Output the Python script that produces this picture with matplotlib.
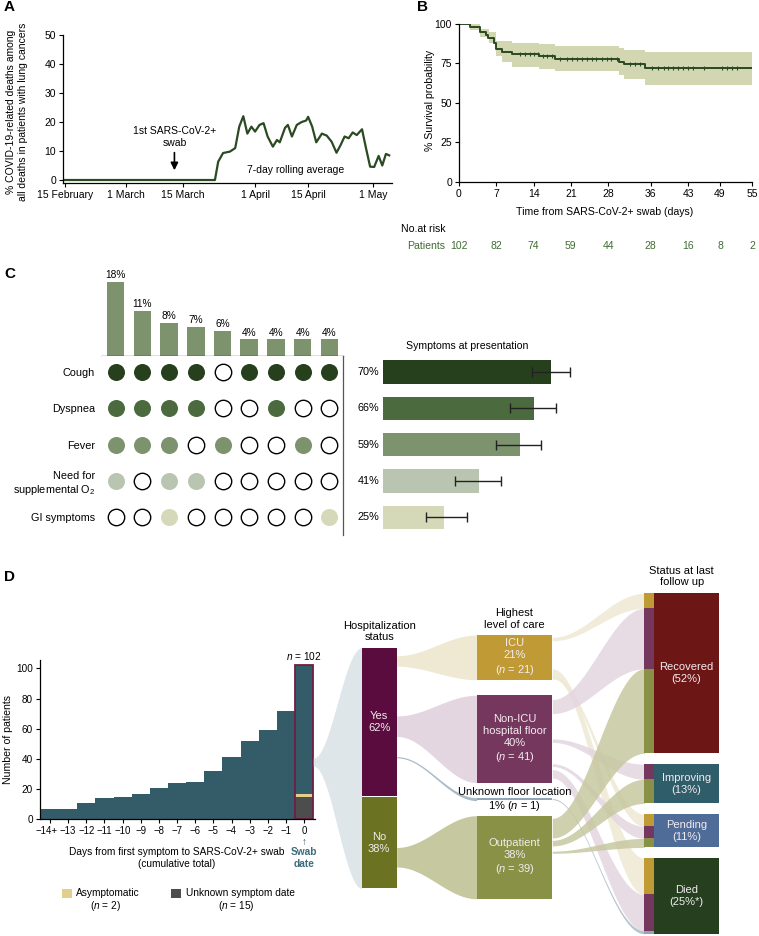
import numpy as np
import matplotlib
matplotlib.use('Agg')
import matplotlib.pyplot as plt
from matplotlib.patches import Rectangle
from matplotlib.transforms import ScaledTranslation

plt.rcParams['font.family'] = ['Liberation Sans', 'DejaVu Sans']
plt.rcParams['mathtext.fontset'] = 'custom'
plt.rcParams['mathtext.rm'] = 'Liberation Sans'
plt.rcParams['mathtext.it'] = 'Liberation Sans:italic'
plt.rcParams['font.size'] = 7
plt.rcParams['axes.linewidth'] = 0.9
plt.rcParams['xtick.major.width'] = 0.8
plt.rcParams['ytick.major.width'] = 0.8
plt.rcParams['xtick.major.size'] = 3
plt.rcParams['ytick.major.size'] = 3
plt.rcParams['xtick.major.pad'] = 2
plt.rcParams['ytick.major.pad'] = 2

# ---------------- data ----------------
# Panel A: 7-day rolling average (% COVID-19 related deaths); day 0 = 15 February
a_days = [0, 37, 37.8, 39, 40.7, 42, 43, 44, 45, 46, 46.9, 48, 49, 50, 51.3, 52.3, 53,
          54.3, 55, 56, 57.2, 58.4, 59.5, 60, 61, 62, 63.4, 64.6, 65.8, 67, 68, 69, 70,
          71, 72, 73.3, 74.2, 75.3, 76.3, 77.4, 78.3, 79.2, 80]
a_vals = [0, 0, 6.3, 9.3, 9.8, 11, 18.4, 22, 16, 18.4, 16.7, 19, 19.6, 15, 11.5, 13.8, 13,
          18, 19, 15, 19, 20, 20.5, 21.8, 18.4, 13, 16, 15.3, 13.2, 9.4, 12, 15, 14.4,
          16.4, 15.5, 17.5, 11.5, 4.6, 4.5, 8.3, 5, 9, 8.5]
a_tick_days = [0, 15, 29, 47, 60, 76]
a_tick_labels = ['15 February', '1 March', '15 March', '1 April', '15 April', '1 May']
a_swab_day = 27

# Panel B: Kaplan-Meier
km_t = [0, 2, 4, 5, 5.5, 6.5, 7, 8, 10, 15, 18, 30, 31, 35, 55]
km_s = [100, 98, 95, 93, 91, 88, 84, 82.5, 81, 79.5, 78, 76, 74.5, 72, 72]
ci_up_t = [0, 4, 5.7, 7, 10, 15, 18, 30, 31, 35, 55]
ci_up = [100, 97, 95, 89, 88, 87.3, 86.3, 85, 83.5, 82, 82]
ci_lo_t = [0, 2, 4, 5.7, 7, 8, 10, 15, 18, 30, 31, 35, 55]
ci_lo = [100, 96, 92, 88, 80, 76, 73, 71.5, 70.3, 67.7, 65, 61.5, 61.5]
censor_t = [11.5, 12.4, 13.3, 14.1, 14.9, 15.8, 16.6, 17.5, 19, 20.2, 21.2, 22.1, 23, 24,
            24.9, 25.8, 26.8, 27.7, 28.6, 29.6, 32.1, 33, 34, 36.3, 37.4, 38.4, 39.3,
            40.2, 41.2, 42.1, 43, 44, 45.9, 49.3, 50.3, 51.2, 52.1]
risk_days = [0, 7, 14, 21, 28, 36, 43, 49, 55]
risk_n = [102, 82, 74, 59, 44, 28, 16, 8, 2]

# Panel C
combo_pct = [18, 11, 8, 7, 6, 4, 4, 4, 4]
symptoms = ['Cough', 'Dyspnea', 'Fever', 'Need for\nsupplemental O$_2$', 'GI symptoms']
combo_matrix = [
    [1, 1, 1, 1, 0, 1, 1, 1, 1],
    [1, 1, 1, 1, 0, 0, 1, 0, 0],
    [1, 1, 1, 0, 1, 0, 0, 1, 0],
    [1, 0, 1, 1, 0, 0, 0, 0, 0],
    [0, 0, 1, 0, 0, 0, 0, 0, 1],
]
symptom_bar = [70, 63, 57, 40, 25.5]
symptom_label = ['70%', '66%', '59%', '41%', '25%']
symptom_ci_lo = [62, 53, 47, 30, 18]
symptom_ci_hi = [78, 72, 66, 49, 35]

# Panel D histogram
hist_labels = ['\u221214+', '\u221213', '\u221212', '\u221211', '\u221210', '\u22129', '\u22128',
               '\u22127', '\u22126', '\u22125', '\u22124', '\u22123', '\u22122', '\u22121', '0']
hist_vals = [7, 7, 11, 14, 15, 17, 21, 24, 25, 32, 41, 52, 59, 72, 102]
unknown_n = 15
asym_n = 2

# Panel D sankey
hosp_nodes = ['Yes', 'No']
hosp_n = [63, 39]
care_nodes = ['ICU', 'Non-ICU', 'Unknown', 'Outpatient']
care_n = [21, 41, 1, 39]
status_nodes = ['Recovered', 'Improving', 'Pending', 'Died']
status_n = [53, 13, 11, 25]
flow1_src = ['Yes', 'Yes', 'Yes', 'No']
flow1_dst = ['ICU', 'Non-ICU', 'Unknown', 'Outpatient']
flow1_n = [21, 41, 1, 39]
flow2_src = ['ICU', 'ICU', 'ICU', 'Non-ICU', 'Non-ICU', 'Non-ICU', 'Non-ICU', 'Unknown',
             'Outpatient', 'Outpatient', 'Outpatient']
flow2_dst = ['Recovered', 'Pending', 'Died', 'Recovered', 'Improving', 'Pending', 'Died',
             'Died', 'Recovered', 'Improving', 'Pending']
flow2_n = [5, 4, 12, 20, 5, 4, 12, 1, 28, 8, 3]

# ---------------- styling / layout ----------------
W, H = 759, 936
fig = plt.figure(figsize=(W / 100, H / 100), dpi=100)


def rect(l, t, r, b):
    return [l / W, 1 - b / H, (r - l) / W, (b - t) / H]


GREEN = '#2b4a22'
RISK_GREEN = '#3f6b34'
TFS = 7.5  # tick font size

# ---------- Panel A ----------
ax = fig.add_axes(rect(63, 35, 392, 183))
ax.plot(a_days, a_vals, color=GREEN, lw=1.6, solid_joinstyle='round')
ax.set_xlim(-0.5, 80.7)
ax.set_ylim(-1.03, 50)
ax.set_yticks([0, 10, 20, 30, 40, 50])
ax.set_xticks(a_tick_days)
ax.set_xticklabels(a_tick_labels)
for s in ['top', 'right']:
    ax.spines[s].set_visible(False)
ax.tick_params(labelsize=TFS)
ax.annotate('', xy=(a_swab_day, 2.4), xytext=(a_swab_day, 10.4),
            arrowprops=dict(arrowstyle='-|>', color='k', lw=1.2, mutation_scale=11))
ax.text(a_swab_day, 15, '1st SARS-CoV-2+\nswab', ha='center', va='center', fontsize=7.5,
        linespacing=1.25)
ax.text(56.8, 3.4, '7-day rolling average', ha='center', va='center', fontsize=7.5)

# ---------- Panel B ----------
ax = fig.add_axes(rect(459, 24, 752, 182))
tt = sorted(set(ci_up_t) | set(ci_lo_t))
up_vals = [ci_up[np.searchsorted(ci_up_t, t, side='right') - 1] for t in tt]
lo_vals = [ci_lo[np.searchsorted(ci_lo_t, t, side='right') - 1] for t in tt]
ax.fill_between(tt, lo_vals, up_vals, step='post', color='#d2d7b2', lw=0)
ax.step(km_t, km_s, where='post', color=GREEN, lw=1.4)
cens_y = [km_s[np.searchsorted(km_t, t, side='right') - 1] for t in censor_t]
ax.plot(censor_t, cens_y, ls='none', marker='|', ms=3.5, mew=0.8, color=GREEN)
ax.set_xlim(0, 55)
ax.set_ylim(0, 100)
ax.set_xticks(risk_days)
ax.set_yticks([0, 25, 50, 75, 100])
for s in ['top', 'right']:
    ax.spines[s].set_visible(False)
ax.tick_params(labelsize=TFS)
for d, n in zip(risk_days, risk_n):
    ax.text(d, -40.5, str(n), ha='center', va='center', fontsize=TFS, color=RISK_GREEN,
            clip_on=False)

# ---------- Panel C ----------
ncol = len(combo_pct)
ax = fig.add_axes(rect(101.7, 270, 343.3, 355.7))
ax.bar(range(ncol), combo_pct, width=0.66, color='#7c936e')
for i, v in enumerate(combo_pct):
    ax.text(i, v + 0.4, f'{v}%', ha='center', va='bottom', fontsize=7.3)
ax.set_xlim(-0.52, 8.52)
ax.set_ylim(0, 20.9)
for s in ['top', 'right', 'left']:
    ax.spines[s].set_visible(False)
ax.set_yticks([])
ax.set_xticks(range(ncol))
ax.set_xticklabels([])
ax.tick_params(axis='x', length=3)

sym_colors = ['#263f1c', '#4b6a3d', '#7c936e', '#b9c5b1', '#d5d9b8']
ax = fig.add_axes(rect(101.7, 355.7, 343.3, 535))
for r, row in enumerate(combo_matrix):
    for c, v in enumerate(row):
        if v:
            ax.scatter(c, r, s=150, color=sym_colors[r], lw=0)
        else:
            ax.scatter(c, r, s=140, facecolor='white', edgecolor='black', lw=1.0)
ax.set_xlim(-0.52, 8.52)
ax.set_ylim(4.49, -0.45)
for s in ['top', 'left', 'bottom']:
    ax.spines[s].set_visible(False)
ax.set_xticks([])
ax.set_yticks(range(len(symptoms)))
ax.set_yticklabels(symptoms, fontsize=7.8)
ax.tick_params(axis='y', length=0, pad=5)
ax.spines['right'].set_color('#555555')

ax = fig.add_axes(rect(383, 355.7, 623, 535))
ax.barh(range(len(symptom_bar)), symptom_bar, height=0.64, color=sym_colors)
lo = np.array(symptom_bar) - np.array(symptom_ci_lo)
hi = np.array(symptom_ci_hi) - np.array(symptom_bar)
ax.errorbar(symptom_bar, range(len(symptom_bar)), xerr=[lo, hi], fmt='none',
            ecolor='#222222', elinewidth=1.0, capsize=3.5, capthick=1.0)
for i, lab in enumerate(symptom_label):
    ax.text(-10.5, i, lab, ha='left', va='center', fontsize=7.8)
ax.set_xlim(0, 100)
ax.set_ylim(4.49, -0.45)
ax.axis('off')

# ---------- Panel D histogram ----------
TEAL = '#345c68'
ax = fig.add_axes(rect(40, 660, 315, 819.3))
x = np.arange(len(hist_vals))
bottoms = [0] * (len(hist_vals) - 1) + [unknown_n + asym_n]
heights = list(hist_vals[:-1]) + [hist_vals[-1] - unknown_n - asym_n]
ax.bar(x, heights, bottom=bottoms, width=1.0, color=TEAL, lw=0)
ax.bar(x[-1], unknown_n, width=1.0, color='#4d4d4d', lw=0)
ax.bar(x[-1], asym_n, bottom=unknown_n, width=1.0, color='#e2cf8c', lw=0)
ax.bar(x[-1], hist_vals[-1], width=0.96, facecolor='none', edgecolor='#6e1f45', lw=1.3)
ax.text(x[-1], hist_vals[-1] + 2.5, '$n$ = 102', ha='center', va='bottom', fontsize=7.3)
ax.set_xlim(-0.55, 14.6)
ax.set_ylim(0, 105.5)
ax.set_xticks(x)
ax.set_xticklabels(hist_labels)
ax.set_yticks([0, 20, 40, 60, 80, 100])
for s in ['top', 'right']:
    ax.spines[s].set_visible(False)
ax.tick_params(axis='y', labelsize=7.2)
ax.tick_params(axis='x', labelsize=6.9)
first = ax.get_xticklabels()[0]
first.set_transform(first.get_transform() + ScaledTranslation(-3 / 100, 0, fig.dpi_scale_trans))

# ---------- Overlay (texts + sankey) ----------
ov = fig.add_axes([0, 0, 1, 1])
ov.set_xlim(0, W)
ov.set_ylim(H, 0)
ov.axis('off')
ov.patch.set_visible(False)

for lab, (px, py) in zip('ABCD', [(4, 7), (417, 7), (4, 274), (4, 577)]):
    ov.text(px, py, lab, fontsize=11, fontweight='bold', ha='left', va='center')

ov.text(17, 112, '% COVID-19-related deaths among\nall deaths in patients with lung cancers',
        rotation=90, ha='center', va='center', fontsize=7.5, linespacing=1.15)
ov.text(430, 100, '% Survival probability', rotation=90, ha='center', va='center', fontsize=7.6)
ov.text(605, 212, 'Time from SARS-CoV-2+ swab (days)', ha='center', va='center', fontsize=7.6)
ov.text(401, 229, 'No.at risk', ha='left', va='center', fontsize=7.6)
ov.text(445, 246, 'Patients', ha='right', va='center', fontsize=7.6, color=RISK_GREEN)
ov.text(467, 346, 'Symptoms at presentation', ha='center', va='center', fontsize=7.6)

ov.text(8, 740, 'Number of patients', rotation=90, ha='center', va='center', fontsize=7.6)
ov.text(177, 858, 'Days from first symptom to SARS-CoV-2+ swab\n(cumulative total)',
        ha='center', va='center', fontsize=7.3, linespacing=1.2)
ov.text(304, 842, '\u2191', ha='center', va='center', fontsize=7, color=TEAL)
ov.text(304, 858, 'Swab\ndate', ha='center', va='center', fontsize=7.3, color='#3b6d7b',
        fontweight='bold', linespacing=1.15)
ov.add_patch(Rectangle((62, 889), 10, 9, color='#e2cf8c', lw=0))
ov.text(76, 893.5, 'Asymptomatic', ha='left', va='center', fontsize=7.3)
ov.text(105, 906, '($n$ = 2)', ha='center', va='center', fontsize=7.3)
ov.add_patch(Rectangle((171, 889), 10, 9, color='#4d4d4d', lw=0))
ov.text(186, 893.5, 'Unknown symptom date', ha='left', va='center', fontsize=7.3)
ov.text(236, 906, '($n$ = 15)', ha='center', va='center', fontsize=7.3)


def stack(counts, top, scale, gap):
    out = []
    y = top
    for c in counts:
        out.append((y, y + c * scale))
        y += c * scale + gap
    return out


def band(x0, a0, b0, x1, a1, b1, color, alpha=1.0, z=1):
    t = np.linspace(0, 1, 80)
    s = (1 - np.cos(np.pi * t)) / 2
    xs = x0 + (x1 - x0) * t
    top = a0 + (a1 - a0) * s
    bot = b0 + (b1 - b0) * s
    ov.fill_between(xs, top, bot, color=color, lw=0, alpha=alpha, zorder=z)


# column geometry (layout)
HX = (361.7, 396.7)
CX = (476.7, 552.3)
SX = (644.3, 654.0, 719.0)
hosp_pos = stack(hosp_n, 647.7, 2.35, 1.0)
care_pos = stack(care_n, 635.0, 2.13, 15.5)
stat_pos = stack(status_n, 593.3, 3.02, 10.8)

hosp_col = {'Yes': '#5b0c3e', 'No': '#6b7222'}
care_col = {'ICU': '#c09b35', 'Non-ICU': '#76375f', 'Unknown': '#8fa7b8',
            'Outpatient': '#899146'}
flow_col = {'ICU': '#efe9d3', 'Non-ICU': '#e3d6e0', 'Unknown': '#a9bac7',
            'Outpatient': '#c6c8a0'}
stat_col = {'Recovered': '#6d1616', 'Improving': '#2f5d69', 'Pending': '#4f6b97',
            'Died': '#253f1f'}

# grey flow from swab-date bar to hospitalization status
band(313.3, 758, 766, HX[0], hosp_pos[0][0], hosp_pos[-1][1], '#dfe6ea', z=1)

# flows hospitalization -> highest level of care
flow1_frac = [0.09, 0.53, 0.74, 0.66]
for s, d, n, f in zip(flow1_src, flow1_dst, flow1_n, flow1_frac):
    y0, y1 = hosp_pos[hosp_nodes.index(s)]
    c = y0 + f * (y1 - y0)
    w = n * 0.5
    t0, t1 = care_pos[care_nodes.index(d)]
    if d == 'Unknown':
        t0, t1 = t0 - 0.4, t1 + 0.4
        band(HX[1], c - 0.6, c + 0.6, CX[0], t0, t1, flow_col[d], z=1)
    else:
        band(HX[1], c - w / 2, c + w / 2, CX[0], t0, t1, flow_col[d], z=1)

# flows level of care -> status
flow2_frac = [0.09, 0.95, 0.85, 0.13, 0.52, 0.8, 0.9, 0.5, 0.15, 0.33, 0.44]
stat_fill = {k: stat_pos[i][0] for i, k in enumerate(status_nodes)}
strips = []
for s, d, n, f in zip(flow2_src, flow2_dst, flow2_n, flow2_frac):
    y0, y1 = care_pos[care_nodes.index(s)]
    c = y0 + f * (y1 - y0)
    w = max(n * 0.7, 1.0)
    t0 = stat_fill[d]
    t1 = t0 + n * 3.02
    stat_fill[d] = t1
    strips.append((t0, t1, care_col[s]))
    band(CX[1], c - w / 2, c + w / 2, SX[0], t0, t1, flow_col[s], alpha=0.85, z=1)

# nodes
for name, (y0, y1) in zip(hosp_nodes, hosp_pos):
    ov.add_patch(Rectangle((HX[0], y0), HX[1] - HX[0], y1 - y0, color=hosp_col[name],
                           lw=0, zorder=3))
for name, (y0, y1) in zip(care_nodes, care_pos):
    ov.add_patch(Rectangle((CX[0], y0), CX[1] - CX[0], y1 - y0, color=care_col[name],
                           lw=0, zorder=3))
for (y0, y1, col) in strips:
    ov.add_patch(Rectangle((SX[0], y0), SX[1] - SX[0], y1 - y0, color=col, lw=0, zorder=3))
for name, (y0, y1) in zip(status_nodes, stat_pos):
    ov.add_patch(Rectangle((SX[1], y0), SX[2] - SX[1], y1 - y0, color=stat_col[name],
                           lw=0, zorder=3))

TXT = '#f2ecef'
fs = 8
hosp_txt = ['Yes\n62%', 'No\n38%']
for t, (y0, y1) in zip(hosp_txt, hosp_pos):
    ov.text(sum(HX) / 2, (y0 + y1) / 2, t, ha='center', va='center', fontsize=fs,
            color=TXT, zorder=4, linespacing=1.25)
care_txt = ['ICU\n21%\n($n$ = 21)', 'Non-ICU\nhospital floor\n40%\n($n$ = 41)', None,
            'Outpatient\n38%\n($n$ = 39)']
for t, (y0, y1) in zip(care_txt, care_pos):
    if t:
        ov.text(sum(CX) / 2, (y0 + y1) / 2, t, ha='center', va='center', fontsize=fs,
                color=TXT, zorder=4, linespacing=1.25)
uy = sum(care_pos[2]) / 2
ov.text(sum(CX) / 2, uy - 7, 'Unknown floor location', ha='center', va='center',
        fontsize=fs, zorder=4)
ov.text(sum(CX) / 2, uy + 7, '1% ($n$ = 1)', ha='center', va='center', fontsize=fs, zorder=4)
stat_txt = ['Recovered\n(52%)', 'Improving\n(13%)', 'Pending\n(11%)', 'Died\n(25%*)']
for t, (y0, y1) in zip(stat_txt, stat_pos):
    ov.text((SX[1] + SX[2]) / 2, (y0 + y1) / 2, t,
            ha='center', va='center', fontsize=fs, color=TXT, zorder=4, linespacing=1.25)

ov.text(sum(HX) / 2, 631.5, 'Hospitalization\nstatus', ha='center', va='center', fontsize=fs,
        linespacing=1.2)
ov.text(sum(CX) / 2, 619, 'Highest\nlevel of care', ha='center', va='center', fontsize=fs,
        linespacing=1.2)
ov.text((SX[0] + SX[2]) / 2, 576.5, 'Status at last\nfollow up', ha='center', va='center',
        fontsize=fs, linespacing=1.2)

fig.savefig('out.png', dpi=100)
